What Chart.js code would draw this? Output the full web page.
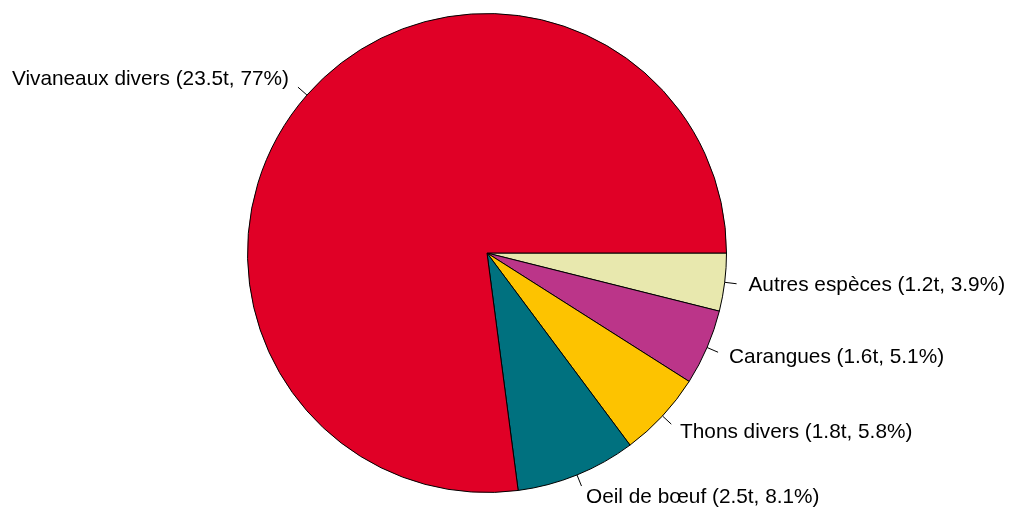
<!DOCTYPE html>
<html>
<head>
<meta charset="utf-8">
<script src="https://cdn.jsdelivr.net/npm/chart.js@4"></script>
<style>
  html, body { margin: 0; padding: 0; background: #ffffff; }
  #wrap { width: 1013px; height: 508px; }
</style>
</head>
<body>
<div id="wrap"><canvas id="myChart" width="1013" height="508"></canvas></div>
<script>
// slices listed clockwise from 3 o'clock (R draws them counter-clockwise)
const categories = ["Autres espèces", "Carangues", "Thons divers", "Oeil de bœuf", "Vivaneaux divers"];
const tonnes = ["1.2", "1.6", "1.8", "2.5", "23.5"];
const percents = [3.9, 5.1, 5.8, 8.1, 77];
const colors = ["#E8E8AE", "#BB3589", "#FDC300", "#00717F", "#E00026"];

// labels outside the pie, like base R pie()
const outsideLabels = {
    id: "outsideLabels",
    afterDatasetsDraw(chart) {
        const ctx = chart.ctx;
        const arcs = chart.getDatasetMeta(0).data;
        ctx.save();
        ctx.font = "20.8px 'Liberation Sans', Arial, sans-serif";
        ctx.fillStyle = "#000000";
        ctx.strokeStyle = "#000000";
        ctx.lineWidth = 1;
        ctx.textBaseline = "middle";
        arcs.forEach((arc, i) => {
            const mid = (arc.startAngle + arc.endAngle) / 2;
            const r = arc.outerRadius;
            const c = Math.cos(mid), s = Math.sin(mid);
            ctx.beginPath();
            ctx.moveTo(arc.x + r * c, arc.y + r * s);
            ctx.lineTo(arc.x + 1.05 * r * c, arc.y + 1.05 * r * s);
            ctx.stroke();
            ctx.textAlign = c >= 0 ? "left" : "right";
            const label = categories[i] + " (" + tonnes[i] + "t, " + percents[i] + "%)";
            ctx.fillText(label, arc.x + 1.1 * r * c, arc.y + 1.1 * r * s);
        });
        ctx.restore();
    }
};

new Chart(document.getElementById("myChart").getContext("2d"), {
    type: "pie",
    data: {
        labels: categories,
        datasets: [{
            data: percents,
            backgroundColor: colors,
            borderColor: "#000000",
            borderWidth: 1
        }]
    },
    options: {
        responsive: false,
        devicePixelRatio: 1,
        animation: false,
        rotation: 90,
        layout: { padding: { left: 0, right: 39, top: 13, bottom: 15 } },
        events: [],
        plugins: {
            legend: { display: false },
            tooltip: { enabled: false }
        }
    },
    plugins: [outsideLabels]
});
</script>
</body>
</html>
